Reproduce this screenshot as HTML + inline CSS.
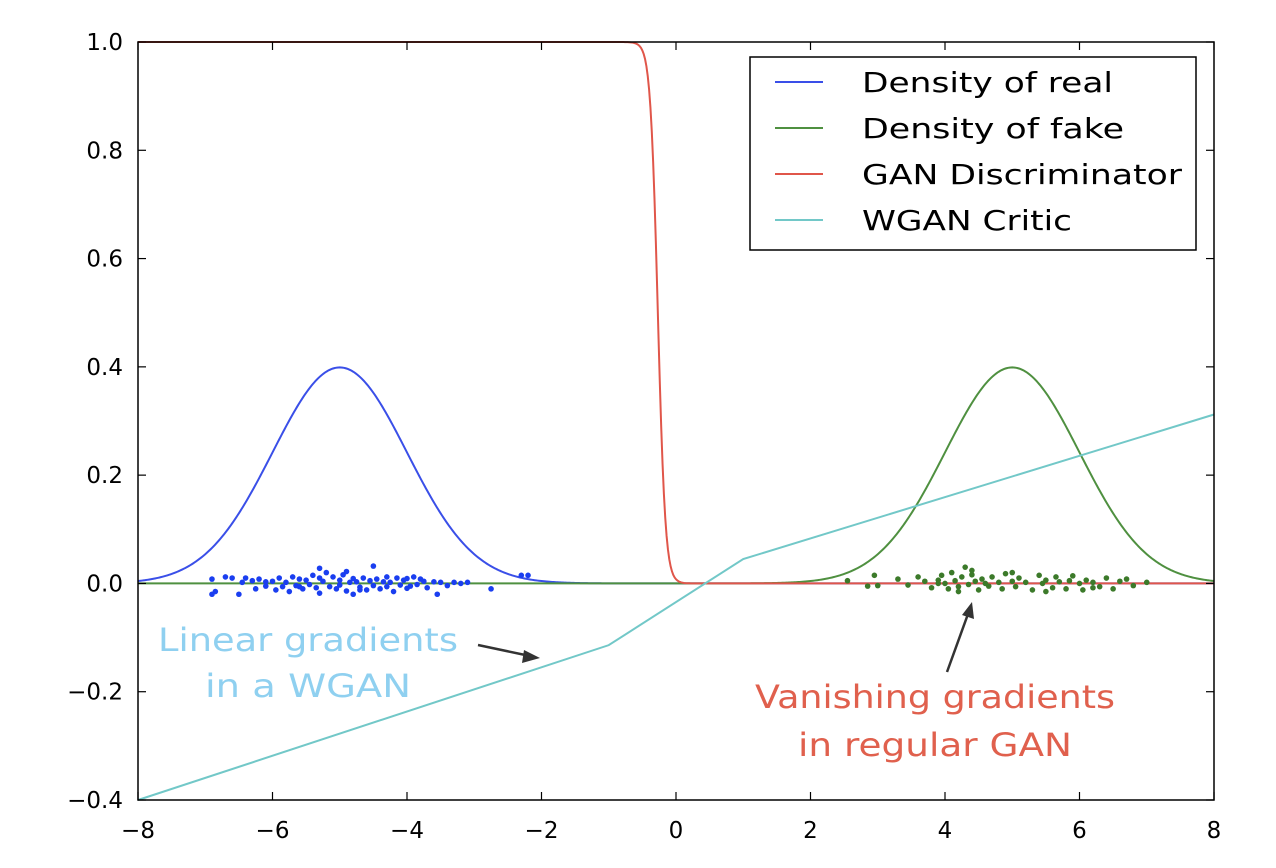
<!DOCTYPE html>
<html><head><meta charset="utf-8"><style>
html,body{margin:0;padding:0;background:#fff;width:1276px;height:868px;overflow:hidden}
svg{display:block;font-family:"DejaVu Sans","Liberation Sans",sans-serif}
</style></head><body>
<svg id="chart" width="1276" height="868">
<g id="marks"></g>
<rect x="138" y="42" width="1076" height="758" fill="none" stroke="#000" stroke-width="1.5"/>
<g id="ticks"></g>
<g>
<rect x="750" y="57" width="446" height="193" fill="#fff" stroke="#000" stroke-width="1.5"/>
<g><line x1="775" y1="82" x2="823" y2="82" stroke="#3a4fe8" stroke-width="2"/><text x="862" y="92" font-size="28" textLength="251" lengthAdjust="spacingAndGlyphs">Density of real</text></g>
<g><line x1="775" y1="128" x2="823" y2="128" stroke="#4f9040" stroke-width="2"/><text x="862" y="138" font-size="28" textLength="262" lengthAdjust="spacingAndGlyphs">Density of fake</text></g>
<g><line x1="775" y1="174" x2="823" y2="174" stroke="#e0564a" stroke-width="2"/><text x="862" y="184" font-size="28" textLength="320" lengthAdjust="spacingAndGlyphs">GAN Discriminator</text></g>
<g><line x1="775" y1="220" x2="823" y2="220" stroke="#72c8c8" stroke-width="2"/><text x="862" y="230" font-size="28" textLength="210" lengthAdjust="spacingAndGlyphs">WGAN Critic</text></g>
</g>
<g>
<text x="158" y="651" font-size="32" fill="#8fd0f0" textLength="300" lengthAdjust="spacingAndGlyphs">Linear gradients</text>
<text x="205" y="697" font-size="32" fill="#8fd0f0" textLength="206" lengthAdjust="spacingAndGlyphs">in a WGAN</text>
<line x1="478" y1="645" x2="530" y2="656" stroke="#333" stroke-width="2.5"/>
<polygon points="540,658 524,650 522,663" fill="#333"/>
</g>
<g>
<text x="755" y="708" font-size="32" fill="#e0604d" textLength="360" lengthAdjust="spacingAndGlyphs">Vanishing gradients</text>
<text x="798" y="756" font-size="32" fill="#e0604d" textLength="274" lengthAdjust="spacingAndGlyphs">in regular GAN</text>
<line x1="947" y1="672" x2="968" y2="614" stroke="#333" stroke-width="2.5"/>
<polygon points="972,602 962,615 974,619" fill="#333"/>
</g>
</svg>
<script>
const xTicks=[-8,-6,-4,-2,0,2,4,6,8];
const yTicks=[-0.4,-0.2,0.0,0.2,0.4,0.6,0.8,1.0];
const critX=[-8,-1,1,8];
const critY=[-0.4,-0.114,0.045,0.312];
const realMean=-5, fakeMean=5, sigma=1;
const discCenter=-0.27, discSlope=18;
const realPtsX=[-6.9,-6.9,-6.85,-6.7,-6.6,-6.5,-6.45,-6.4,-6.3,-6.25,-6.2,-6.1,-6.0,-5.95,-5.9,-5.85,-5.8,-5.75,-5.7,-5.65,-5.6,-5.55,-5.5,-5.45,-5.4,-5.35,-5.3,-5.3,-5.25,-5.2,-5.15,-5.1,-5.05,-5.0,-5.0,-4.95,-4.9,-4.85,-4.8,-4.8,-4.75,-4.7,-4.65,-4.6,-4.55,-4.5,-4.5,-4.45,-4.4,-4.35,-4.3,-4.3,-4.25,-4.2,-4.15,-4.1,-4.05,-4.0,-3.95,-3.9,-3.85,-3.8,-3.75,-3.7,-3.6,-3.55,-3.5,-3.4,-3.3,-3.2,-3.1,-2.75,-2.3,-2.2,-5.3,-4.7,-4.9,-5.6,-6.1,-4.0];
const realPtsY=[0.008,-0.02,-0.015,0.012,0.01,-0.02,0.002,0.01,0.005,-0.01,0.008,-0.005,0.004,-0.012,0.01,-0.006,0.002,-0.015,0.012,-0.004,0.008,-0.01,0.006,-0.002,0.015,-0.008,0.01,-0.018,0.004,0.02,-0.006,0.012,-0.01,0.006,-0.003,0.016,-0.014,0.002,0.009,-0.02,0.003,-0.007,0.01,-0.012,0.005,0.032,-0.004,0.008,-0.01,0.003,0.012,-0.006,0.002,-0.015,0.01,-0.003,0.006,0.009,-0.005,0.012,-0.002,0.008,0.004,-0.008,0.003,-0.02,0.002,-0.004,0.002,0.0,0.002,-0.01,0.015,0.015,0.028,-0.012,0.022,-0.006,0.003,-0.009];
const fakePtsX=[2.55,2.85,2.95,3.0,3.3,3.45,3.6,3.7,3.8,3.9,3.95,4.0,4.05,4.1,4.15,4.2,4.25,4.3,4.35,4.4,4.45,4.5,4.55,4.6,4.65,4.7,4.8,4.85,4.9,5.0,5.05,5.1,5.2,5.3,5.4,5.45,5.5,5.6,5.65,5.7,5.8,5.85,5.9,6.0,6.05,6.1,6.2,6.3,6.4,6.5,6.6,6.7,6.8,7.0,4.2,4.4,5.0,5.5,6.2,3.9];
const fakePtsY=[0.005,-0.005,0.015,-0.004,0.008,-0.003,0.012,0.004,-0.008,0.006,0.015,0.0,-0.01,0.02,0.005,-0.006,0.012,0.03,-0.002,0.016,0.004,-0.012,0.008,0.0,-0.005,0.012,0.002,-0.01,0.018,0.004,-0.006,0.01,0.002,-0.012,0.015,0.0,0.006,-0.008,0.012,0.003,-0.01,0.005,0.014,0.0,-0.012,0.006,0.002,-0.006,0.01,-0.01,0.004,0.008,-0.004,0.002,-0.015,0.024,0.02,-0.015,-0.008,0.0];

const X0=138,X1=1214,Y0=800,Y1=42;
const sx=v=>X0+(v+8)/16*(X1-X0);
const sy=v=>Y0-(v+0.4)/1.4*(Y0-Y1);
const NS='http://www.w3.org/2000/svg';
const marks=document.getElementById('marks'),ticks=document.getElementById('ticks');
function mk(tag,attrs,parent){const e=document.createElementNS(NS,tag);for(const k in attrs)e.setAttribute(k,attrs[k]);parent.appendChild(e);return e;}
function curve(f,color,name){let d='';for(let i=0;i<=800;i++){const x=-8+16*i/800;let y=f(x);y=Math.min(1,Math.max(-0.4,y));d+=(i?'L':'M')+sx(x).toFixed(2)+','+sy(y).toFixed(2);}
 const p=mk('path',{d:d,fill:'none',stroke:color,'stroke-width':2},marks);
 
 }
const gauss=(x,m)=>Math.exp(-0.5*((x-m)/sigma)**2)/(sigma*Math.sqrt(2*Math.PI));
curve(x=>gauss(x,realMean),'#3a4fe8','density-real-line');
curve(x=>gauss(x,fakeMean),'#4f9040','density-fake-line');
curve(x=>1/(1+Math.exp(discSlope*(x-discCenter))),'#e0564a','gan-discriminator-line');
let cd='';critX.forEach((x,i)=>{cd+=(i?'L':'M')+sx(x)+','+sy(critY[i]);});
const cp=mk('path',{d:cd,fill:'none',stroke:'#72c8c8','stroke-width':2},marks);


realPtsX.forEach((x,i)=>{const c=mk('circle',{cx:sx(x),cy:sy(realPtsY[i]),r:2.8,fill:'#1a3ef0'},marks);
 
 });
fakePtsX.forEach((x,i)=>{const c=mk('circle',{cx:sx(x),cy:sy(fakePtsY[i]),r:2.8,fill:'#3c7a2a'},marks);
 
 });
xTicks.forEach(v=>{const x=sx(v);
 mk('line',{x1:x,y1:Y0,x2:x,y2:Y0-8,stroke:'#000','stroke-width':1.2},ticks);
 mk('line',{x1:x,y1:Y1,x2:x,y2:Y1+8,stroke:'#000','stroke-width':1.2},ticks);
 const t=mk('text',{x:x,y:838,'font-size':23,'text-anchor':'middle'},ticks);
 t.textContent=(v<0?'\u2212'+(-v):''+v);
 
 });
yTicks.forEach(v=>{const y=sy(v);
 mk('line',{x1:X0,y1:y,x2:X0+8,y2:y,stroke:'#000','stroke-width':1.2},ticks);
 mk('line',{x1:X1,y1:y,x2:X1-8,y2:y,stroke:'#000','stroke-width':1.2},ticks);
 const t=mk('text',{x:123,y:y+8,'font-size':23,'text-anchor':'end'},ticks);
 t.textContent=(v<0?'\u2212'+(-v).toFixed(1):v.toFixed(1));
 
 });
</script>
</body></html>
